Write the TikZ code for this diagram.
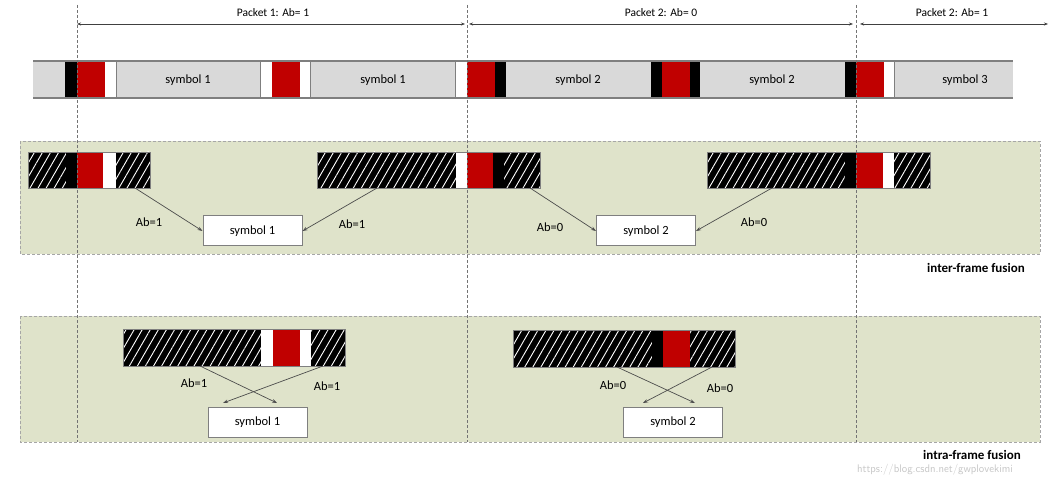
\documentclass[tikz,border=0pt]{standalone}
\usepackage{fontspec}
\setmainfont{Carlito}
\usetikzlibrary{arrows.meta,patterns.meta}
\definecolor{barg}{HTML}{D9D9D9}
\definecolor{redc}{HTML}{C00000}
\definecolor{panelc}{HTML}{DFE3CA}
\definecolor{edgec}{HTML}{7F7F7F}
\definecolor{dashc}{HTML}{A6A6A6}
\begin{document}
\begin{tikzpicture}[x=1pt,y=-1pt,
  font=\fontsize{12.5}{14}\selectfont,
  hatch/.style={fill=black, postaction={pattern={Lines[angle=60,distance=7pt,line width=0.9pt]}, pattern color=white}},
  redseg/.style={fill=redc},
  whiteseg/.style={fill=white},
  blackseg/.style={fill=black},
  sepline/.style={draw=edgec, line width=0.6pt},
  barline/.style={draw=edgec, line width=0.6pt},
  symbox/.style={draw=edgec, fill=white, line width=1pt, minimum width=99pt, minimum height=30pt, inner sep=0pt},
  conn/.style={draw=black!70, line width=0.7pt, -{Stealth[length=5pt,width=3.5pt]}},
  dimarrow/.style={draw=black!75, line width=0.6pt, {Stealth[length=4pt,width=3pt]}-{Stealth[length=4pt,width=3pt]}},
  panel/.style={draw=dashc, fill=panelc, line width=0.8pt, dash pattern=on 3pt off 2pt},
  guide/.style={draw=black!55, line width=0.5pt, dash pattern=on 3pt off 2pt},
  lab/.style={inner sep=1pt}
]
\useasboundingbox (0,0) rectangle (1057,478);
\fill[white] (0,0) rectangle (1057,478);

% panels
\draw[panel] (20,141) rectangle (1040,254);
\draw[panel] (20,316) rectangle (1040,442);

% ---------- top bar ----------
\fill[barg] (33,61) rectangle (1013,98);
\fill[blackseg] (65,61) rectangle (77,98);
\fill[redseg] (77,61) rectangle (105,98);
\fill[whiteseg] (105,61) rectangle (116,98);
\fill[whiteseg] (260,61) rectangle (272,98);
\fill[redseg] (272,61) rectangle (300,98);
\fill[whiteseg] (300,61) rectangle (310,98);
\fill[whiteseg] (455,61) rectangle (467,98);
\fill[redseg] (467,61) rectangle (495,98);
\fill[blackseg] (495,61) rectangle (506,98);
\fill[blackseg] (651,61) rectangle (662,98);
\fill[redseg] (662,61) rectangle (690,98);
\fill[blackseg] (690,61) rectangle (700,98);
\fill[blackseg] (845,61) rectangle (856,98);
\fill[redseg] (856,61) rectangle (884,98);
\fill[whiteseg] (884,61) rectangle (894,98);
\foreach \xx in {116,260,310,455,894} \draw[sepline] (\xx,61) -- (\xx,98);
\draw[edgec, line width=1.2pt] (33,61) -- (1013,61);
\draw[edgec, line width=1.2pt] (33,98) -- (1013,98);
\node[lab] (t1) at (188,80) {symbol 1};
\node[lab] (t2) at (383,80) {symbol 1};
\node[lab] (t3) at (578,80) {symbol 2};
\node[lab] (t4) at (772,80) {symbol 2};
\node[lab] (t5) at (965,80) {symbol 3};

% ---------- packet dimension arrows ----------
\coordinate (p1a) at (77,24);
\coordinate (p1b) at (465,24);
\coordinate (p2a) at (469,24);
\coordinate (p2b) at (853,24);
\coordinate (p3a) at (860,24);
\coordinate (p3b) at (1048,24);
\draw[dimarrow] (p1a) -- (p1b);
\draw[dimarrow] (p2a) -- (p2b);
\draw[dimarrow] (p3a) -- (p3b);
\node[lab, font=\fontsize{11.5}{13}\selectfont] (pk1) at (273,13) {Packet 1: Ab= 1};
\node[lab, font=\fontsize{11.5}{13}\selectfont] (pk2) at (661,13) {Packet 2: Ab= 0};
\node[lab, font=\fontsize{11.5}{13}\selectfont] (pk3) at (952,13) {Packet 2: Ab= 1};

% ---------- inter-frame row ----------
\fill[hatch] (28,152) rectangle (66,188);
\fill[blackseg] (66,152) rectangle (77,188);
\fill[redseg] (77,152) rectangle (103,188);
\fill[whiteseg] (103,152) rectangle (116,188);
\fill[hatch] (116,152) rectangle (150,188);
\draw[barline] (28,152) rectangle (150,188);

\fill[hatch] (317,152) rectangle (456,188);
\fill[whiteseg] (456,152) rectangle (467,188);
\fill[redseg] (467,152) rectangle (493,188);
\fill[blackseg] (493,152) rectangle (504,188);
\fill[hatch] (504,152) rectangle (540,188);
\draw[barline] (317,152) rectangle (540,188);

\fill[hatch] (707,152) rectangle (845,188);
\fill[blackseg] (845,152) rectangle (856,188);
\fill[redseg] (856,152) rectangle (883,188);
\fill[whiteseg] (883,152) rectangle (894,188);
\fill[hatch] (894,152) rectangle (930,188);
\draw[barline] (707,152) rectangle (930,188);

\node[symbox] (m1) at (252.5,231) {symbol 1};
\node[symbox] (m2) at (646,231) {symbol 2};
\coordinate (ma) at (135,188);
\coordinate (mb) at (377,188);
\coordinate (mc) at (530,188);
\coordinate (md) at (772,188);
\draw[conn] (ma) -- (m1.west);
\draw[conn] (mb) -- (m1.east);
\draw[conn] (mc) -- (m2.west);
\draw[conn] (md) -- (m2.east);
\node[lab] (la) at (149,222) {Ab=1};
\node[lab] (lb) at (352,224) {Ab=1};
\node[lab] (lc) at (550,227) {Ab=0};
\node[lab] (ld) at (754,222) {Ab=0};
\node[lab, font=\fontsize{13}{15}\selectfont\bfseries] (inter) at (976,268) {inter-frame fusion};

% ---------- intra-frame row ----------
\fill[hatch] (123,329) rectangle (261,366);
\fill[whiteseg] (261,329) rectangle (273,366);
\fill[redseg] (273,329) rectangle (300,366);
\fill[whiteseg] (300,329) rectangle (311,366);
\fill[hatch] (311,329) rectangle (345,366);
\draw[barline] (123,329) rectangle (345,366);

\fill[hatch] (513,330) rectangle (652,367);
\fill[blackseg] (652,330) rectangle (663,367);
\fill[redseg] (663,330) rectangle (690,367);
\fill[hatch] (690,330) rectangle (735,367);
\draw[barline] (513,330) rectangle (735,367);

\node[symbox] (b1) at (257.5,422.5) {symbol 1};
\node[symbox] (b2) at (673,422.5) {symbol 2};
\coordinate (ba) at (200,366);
\coordinate (bb) at (323,366);
\coordinate (be1) at (277,403);
\coordinate (be2) at (223,403);
\draw[conn] (ba) -- (be1);
\draw[conn] (bb) -- (be2);
\coordinate (bc) at (617,367);
\coordinate (bd) at (712,367);
\coordinate (be3) at (695,403);
\coordinate (be4) at (643,403);
\draw[conn] (bc) -- (be3);
\draw[conn] (bd) -- (be4);
\node[lab] (le) at (194,383) {Ab=1};
\node[lab] (lf) at (327,386) {Ab=1};
\node[lab] (lg) at (613,385) {Ab=0};
\node[lab] (lh) at (720,388) {Ab=0};

\node[lab, font=\fontsize{13}{15}\selectfont\bfseries] (intra) at (972,455) {intra-frame fusion};
\node[lab, text=black!22, font=\fontsize{11}{12}\selectfont\sffamily] (wm) at (935,470) {https://blog.csdn.net/gwplovekimi};

% ---------- guide lines ----------
\coordinate (g1t) at (77,5);  \coordinate (g1b) at (77,442);
\coordinate (g2t) at (467,5); \coordinate (g2b) at (467,442);
\coordinate (g3t) at (856,5); \coordinate (g3b) at (856,442);
\draw[guide] (g1t) -- (g1b);
\draw[guide] (g2t) -- (g2b);
\draw[guide] (g3t) -- (g3b);
\end{tikzpicture}
\end{document}
